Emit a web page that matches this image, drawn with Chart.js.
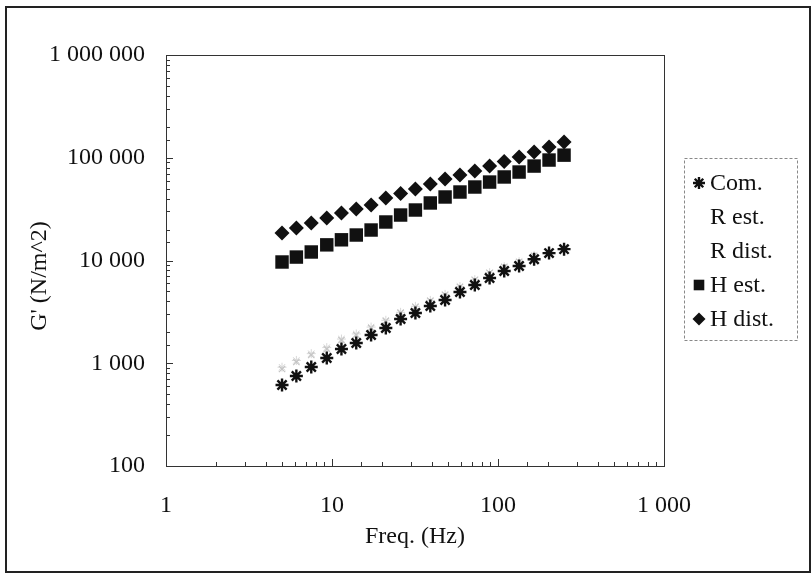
<!DOCTYPE html>
<html>
<head>
<meta charset="utf-8">
<script src="https://cdn.jsdelivr.net/npm/chart.js@4.4.0/dist/chart.umd.min.js"></script>
<style>
html, body { margin: 0; padding: 0; background: #fff; }
#wrap { width: 812px; height: 579px; position: relative; }
</style>
</head>
<body>
<div id="wrap"><canvas id="chart" width="812" height="579"></canvas></div>
<script>
// values
var freqs = [5, 6.1, 7.5, 9.3, 11.4, 14, 17.2, 21.1, 25.9, 31.8, 39.1, 48, 59, 72.5, 89, 109, 134, 165, 203, 250];
var comValues = [614, 751, 919, 1125, 1376, 1575, 1883, 2203, 2697, 3085, 3608, 4130, 4930, 5780, 6760, 7910, 8840, 10300, 11800, 12900];
var rEstValues = [879, 1028, 1203, 1376, 1683, 1883, 2203, 2576, 3085, 3525, 4035, 4615, 5520, 6460, 7560, 8640, 9670, 11060, 12100, 13250];
var rDistValues = [915, 1065, 1240, 1420, 1720, 1930, 2250, 2620, 3130, 3580, 4090, 4680, 5580, 6520, 7620, 8700, 9740, 11150, 12200, 13350];
var hEstValues = [9670, 10800, 12100, 14200, 15900, 17700, 19800, 23700, 27700, 31000, 36300, 41500, 46400, 51900, 58000, 65000, 72600, 83000, 95000, 106000];
var hDistValues = [18500, 20700, 23200, 25900, 29000, 31700, 34700, 40500, 45000, 49700, 55600, 62100, 67900, 74300, 83000, 92000, 101700, 113700, 127000, 142000];
var seriesNames = ['Com.', 'R est.', 'R dist.', 'H est.', 'H dist.'];
var xTickLabels = [1, 10, 100, 1000];
var yTickLabels = [100, 1000, 10000, 100000, 1000000];

function toPoints(values) {
    return values.map(function (v, i) { return { x: freqs[i], y: v }; });
}

function spaced(v) {
    return String(v).replace(/\B(?=(\d{3})+(?!\d))/g, ' ');
}

var serif = "'Liberation Serif', 'DejaVu Serif', serif";
var fontSize = 24;

// outer frame, plot frame, inside tick marks, y title and the legend box
var framePlugin = {
    id: 'frame',
    beforeDraw: function (chart) {
        var ctx = chart.ctx;
        ctx.save();
        ctx.fillStyle = '#fff';
        ctx.fillRect(0, 0, chart.width, chart.height);
        ctx.restore();
    },
    afterDraw: function (chart) {
        var ctx = chart.ctx;
        var area = chart.chartArea;
        var xs = chart.scales.x;
        var ys = chart.scales.y;
        ctx.save();

        // outer border
        ctx.strokeStyle = '#222';
        ctx.lineWidth = 2;
        ctx.strokeRect(6, 7, 804, 565);

        // plot border
        ctx.strokeStyle = '#333';
        ctx.lineWidth = 1;
        ctx.strokeRect(area.left + 0.5, area.top + 0.5, area.right - area.left, area.bottom - area.top);

        // tick marks pointing inward
        ctx.beginPath();
        xs.ticks.forEach(function (t) {
            var px = Math.round(xs.getPixelForValue(t.value)) + 0.5;
            var len = xTickLabels.indexOf(t.value) >= 0 ? 7 : 4;
            ctx.moveTo(px, area.bottom);
            ctx.lineTo(px, area.bottom - len);
        });
        ys.ticks.forEach(function (t) {
            var py = Math.round(ys.getPixelForValue(t.value)) + 0.5;
            var len = yTickLabels.indexOf(t.value) >= 0 ? 7 : 4;
            ctx.moveTo(area.left, py);
            ctx.lineTo(area.left + len, py);
        });
        ctx.stroke();

        // y axis title, sits a little below the middle of the axis
        ctx.font = fontSize + 'px ' + serif;
        ctx.fillStyle = '#111';
        ctx.textAlign = 'center';
        ctx.textBaseline = 'middle';
        ctx.translate(40, 276);
        ctx.rotate(-Math.PI / 2);
        ctx.fillText("G' (N/m^2)", 0, 0);
        ctx.setTransform(1, 0, 0, 1, 0, 0);

        // legend
        var boxL = 684, boxT = 158, boxR = 797, boxB = 340;
        ctx.setLineDash([3, 2]);
        ctx.strokeStyle = '#888';
        ctx.strokeRect(boxL + 0.5, boxT + 0.5, boxR - boxL, boxB - boxT);
        ctx.setLineDash([]);
        ctx.textAlign = 'left';
        chart.data.datasets.forEach(function (ds, i) {
            var cy = 183 + i * 34;
            if (ds.legendMarker) {
                ctx.fillStyle = ds.backgroundColor;
                ctx.strokeStyle = ds.borderColor;
                ctx.lineWidth = ds.borderWidth;
                Chart.helpers.drawPoint(ctx, {
                    pointStyle: ds.pointStyle,
                    radius: ds.legendRadius,
                    borderWidth: ds.borderWidth
                }, 699, cy);
            }
            ctx.fillStyle = '#111';
            ctx.fillText(ds.label, 710, cy + 1);
        });
        ctx.restore();
    }
};

new Chart(document.getElementById('chart'), {
    type: 'scatter',
    data: {
        datasets: [
            { label: seriesNames[0], data: toPoints(comValues), pointStyle: 'star', pointRadius: 6.5, borderWidth: 2.4,
              borderColor: '#111', backgroundColor: '#111', legendMarker: true, legendRadius: 6 },
            { label: seriesNames[1], data: toPoints(rEstValues), pointStyle: 'crossRot', pointRadius: 4.5, borderWidth: 1.2,
              borderColor: '#c4c4c4', backgroundColor: '#c4c4c4', legendMarker: false },
            { label: seriesNames[2], data: toPoints(rDistValues), pointStyle: 'star', pointRadius: 4.5, borderWidth: 1,
              borderColor: '#d8d8d8', backgroundColor: '#d8d8d8', legendMarker: false },
            { label: seriesNames[3], data: toPoints(hEstValues), pointStyle: 'rect', pointRadius: 9.5, borderWidth: 0,
              borderColor: '#111', backgroundColor: '#111', legendMarker: true, legendRadius: 7.5 },
            { label: seriesNames[4], data: toPoints(hDistValues), pointStyle: 'rectRot', pointRadius: 7.5, borderWidth: 0,
              borderColor: '#111', backgroundColor: '#111', legendMarker: true, legendRadius: 6.5 }
        ]
    },
    options: {
        responsive: false,
        animation: false,
        layout: { padding: { left: 0, top: 55, right: 148, bottom: 0 } },
        plugins: {
            legend: { display: false },
            tooltip: { enabled: false }
        },
        scales: {
            x: {
                type: 'logarithmic',
                position: 'bottom',
                min: 1,
                max: 1000,
                grid: { display: false, drawTicks: false },
                border: { display: true, color: '#333' },
                ticks: {
                    autoSkip: false,
                    maxRotation: 0,
                    padding: 25,
                    color: '#111',
                    font: { family: serif, size: fontSize },
                    callback: function (v) { return xTickLabels.indexOf(v) >= 0 ? spaced(v) : ''; }
                },
                title: {
                    display: true,
                    text: 'Freq. (Hz)',
                    color: '#111',
                    font: { family: serif, size: fontSize },
                    padding: { top: 0, bottom: 28 }
                },
                afterFit: function (scale) { scale.height = 113; }
            },
            y: {
                type: 'logarithmic',
                position: 'left',
                min: 100,
                max: 1000000,
                grid: { display: false, drawTicks: false },
                border: { display: true, color: '#333' },
                ticks: {
                    autoSkip: false,
                    padding: 21,
                    color: '#111',
                    font: { family: serif, size: fontSize },
                    callback: function (v) { return yTickLabels.indexOf(v) >= 0 ? spaced(v) : ''; }
                },
                afterFit: function (scale) { scale.width = 166; }
            }
        }
    },
    plugins: [framePlugin]
});
</script>
</body>
</html>
